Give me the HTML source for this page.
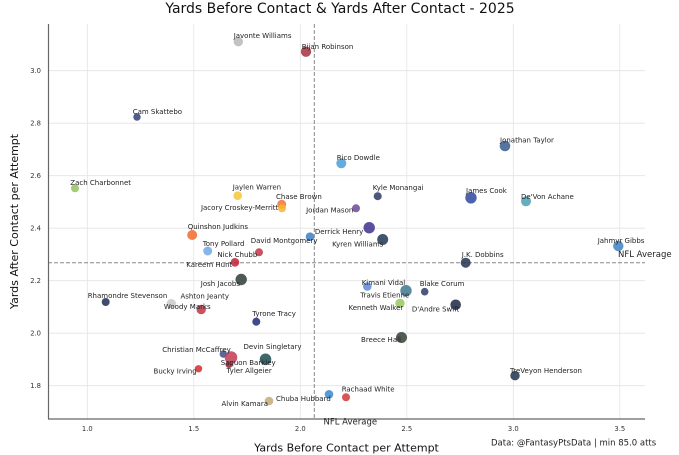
<!DOCTYPE html>
<html><head><meta charset="utf-8"><style>
html,body{margin:0;padding:0;background:#fff;}
svg{display:block;}
text{font-family:"DejaVu Sans","Liberation Sans",sans-serif;}
.a{font-size:7px;fill:#222;}
.t{font-size:6.8px;fill:#333;}
</style></head><body>
<svg width="679" height="455" viewBox="0 0 679 455" xmlns="http://www.w3.org/2000/svg">
<rect width="679" height="455" fill="#fff"/>
<!-- grid -->
<g stroke="#e4e4e4" stroke-width="0.8">
<line x1="87.3" y1="24" x2="87.3" y2="419"/>
<line x1="193.8" y1="24" x2="193.8" y2="419"/>
<line x1="300.3" y1="24" x2="300.3" y2="419"/>
<line x1="406.8" y1="24" x2="406.8" y2="419"/>
<line x1="513.3" y1="24" x2="513.3" y2="419"/>
<line x1="619.8" y1="24" x2="619.8" y2="419"/>
<line x1="48" y1="70.7" x2="645" y2="70.7"/>
<line x1="48" y1="123.2" x2="645" y2="123.2"/>
<line x1="48" y1="175.7" x2="645" y2="175.7"/>
<line x1="48" y1="228.2" x2="645" y2="228.2"/>
<line x1="48" y1="280.7" x2="645" y2="280.7"/>
<line x1="48" y1="333.2" x2="645" y2="333.2"/>
<line x1="48" y1="385.7" x2="645" y2="385.7"/>
</g>
<!-- average lines -->
<g stroke="#888" stroke-width="1" stroke-dasharray="4,2" fill="none">
<line x1="314.3" y1="24" x2="314.3" y2="419"/>
<line x1="48" y1="262.7" x2="645" y2="262.7"/>
</g>
<!-- spines -->
<g stroke="#666" stroke-width="1.2">
<line x1="48.5" y1="24" x2="48.5" y2="419"/>
<line x1="48" y1="419" x2="645" y2="419"/>
</g>
<!-- tick labels -->
<g class="t" text-anchor="middle">
<text x="87.3" y="431">1.0</text>
<text x="193.8" y="431">1.5</text>
<text x="300.3" y="431">2.0</text>
<text x="406.8" y="431">2.5</text>
<text x="513.3" y="431">3.0</text>
<text x="619.8" y="431">3.5</text>
</g>
<g class="t" text-anchor="end">
<text x="41" y="73.2">3.0</text>
<text x="41" y="125.7">2.8</text>
<text x="41" y="178.2">2.6</text>
<text x="41" y="230.7">2.4</text>
<text x="41" y="283.2">2.2</text>
<text x="41" y="335.7">2.0</text>
<text x="41" y="388.2">1.8</text>
</g>
<!-- title & labels -->
<text x="340" y="13" text-anchor="middle" font-size="14" fill="#111">Yards Before Contact &amp; Yards After Contact - 2025</text>
<text x="346.5" y="451.5" text-anchor="middle" font-size="11" fill="#111">Yards Before Contact per Attempt</text>
<text transform="translate(18,221.5) rotate(-90)" text-anchor="middle" font-size="11" fill="#111">Yards After Contact per Attempt</text>
<text x="491" y="445.5" font-size="8.5" fill="#222">Data: @FantasyPtsData | min 85.0 atts</text>
<text x="618" y="257" font-size="8.5" fill="#222">NFL Average</text>
<text x="323.5" y="424.7" font-size="8.5" fill="#222">NFL Average</text>
<!-- points -->
<g fill-opacity="0.85">
<circle cx="238.3" cy="41.7" r="4.7" fill="#b8b8b8"/>
<circle cx="306" cy="51.7" r="5.2" fill="#a8303f"/>
<circle cx="137" cy="117" r="3.7" fill="#2f3f78"/>
<circle cx="75" cy="188.3" r="4" fill="#95c25e"/>
<circle cx="237.7" cy="195.7" r="4.3" fill="#f5c535"/>
<circle cx="281.7" cy="204.3" r="4.5" fill="#ee7535"/>
<circle cx="282" cy="208.3" r="4" fill="#f6b530"/>
<circle cx="341.3" cy="163.3" r="5" fill="#4c9ed8"/>
<circle cx="356" cy="208.3" r="4" fill="#6a4a96"/>
<circle cx="377.7" cy="196.2" r="4" fill="#2c3a64"/>
<circle cx="505" cy="146" r="5.3" fill="#3a5a90"/>
<circle cx="471" cy="197.8" r="5.7" fill="#2f48a0"/>
<circle cx="526" cy="201.3" r="5" fill="#4aa0b2"/>
<circle cx="369.2" cy="227.7" r="5.7" fill="#41308e"/>
<circle cx="382.7" cy="239.5" r="5.5" fill="#223656"/>
<circle cx="310" cy="236.7" r="4.3" fill="#3c7ec2"/>
<circle cx="618.3" cy="246" r="5.2" fill="#3e82c6"/>
<circle cx="465.7" cy="262.7" r="5" fill="#223250"/>
<circle cx="192.2" cy="235" r="5" fill="#f06a2e"/>
<circle cx="207.7" cy="251" r="4.5" fill="#72a8e4"/>
<circle cx="259" cy="252.3" r="4" fill="#c03448"/>
<circle cx="235" cy="262.3" r="4.3" fill="#c02034"/>
<circle cx="241.2" cy="279.5" r="5.7" fill="#2e3e36"/>
<circle cx="105.7" cy="302" r="4" fill="#1e2e50"/>
<circle cx="171.3" cy="303.7" r="4.7" fill="#cacaca"/>
<circle cx="201.2" cy="309.5" r="4.7" fill="#bc3446"/>
<circle cx="256.3" cy="321.7" r="4" fill="#1e2c78"/>
<circle cx="367.3" cy="286.5" r="4.3" fill="#5e88d6"/>
<circle cx="406" cy="290.7" r="5.7" fill="#3e7690"/>
<circle cx="424.7" cy="291.7" r="3.8" fill="#2c3c66"/>
<circle cx="400" cy="303.3" r="4.7" fill="#9ac662"/>
<circle cx="455.7" cy="304.8" r="5.3" fill="#1e2844"/>
<circle cx="401.5" cy="337.5" r="5.5" fill="#323f36"/>
<circle cx="223.3" cy="354" r="3.7" fill="#3c4c88"/>
<circle cx="229" cy="364.5" r="3.5" fill="#981828"/>
<circle cx="231" cy="357.5" r="6.3" fill="#c03a54"/>
<circle cx="265.5" cy="359.3" r="5.8" fill="#1e4e50"/>
<circle cx="198.5" cy="368.8" r="3.7" fill="#d42c2c"/>
<circle cx="515" cy="375.7" r="4.7" fill="#20304e"/>
<circle cx="269" cy="401" r="4.3" fill="#c4a878"/>
<circle cx="329" cy="394.3" r="4.3" fill="#3c88cc"/>
<circle cx="346" cy="397.3" r="4" fill="#d43838"/>
</g>
<!-- annotations -->
<g class="a">
<text x="233.7" y="37.8">Javonte Williams</text>
<text x="301.7" y="48.8">Bijan Robinson</text>
<text x="132.7" y="113.8">Cam Skattebo</text>
<text x="70.3" y="184.8">Zach Charbonnet</text>
<text x="232.7" y="189.5">Jaylen Warren</text>
<text x="276" y="198.8">Chase Brown</text>
<text x="278.3" y="209.8" text-anchor="end">Jacory Croskey-Merritt</text>
<text x="336.7" y="160.2">Rico Dowdle</text>
<text x="353.3" y="212.5" text-anchor="end">Jordan Mason</text>
<text x="372.7" y="190.2">Kyle Monangai</text>
<text x="500" y="142.5">Jonathan Taylor</text>
<text x="466" y="193.2">James Cook</text>
<text x="521" y="199.2">De'Von Achane</text>
<text x="363.3" y="233.8" text-anchor="end">Derrick Henry</text>
<text x="383.3" y="246.3" text-anchor="end">Kyren Williams</text>
<text x="250.7" y="243.2">David Montgomery</text>
<text x="597.7" y="243.2">Jahmyr Gibbs</text>
<text x="461.7" y="256.8">J.K. Dobbins</text>
<text x="187.7" y="229.2">Quinshon Judkins</text>
<text x="202.7" y="245.8">Tony Pollard</text>
<text x="257.3" y="257.2" text-anchor="end">Nick Chubb</text>
<text x="232.3" y="266.8" text-anchor="end">Kareem Hunt</text>
<text x="240" y="285.8" text-anchor="end">Josh Jacobs</text>
<text x="87.7" y="298.2">Rhamondre Stevenson</text>
<text x="180.5" y="298.5">Ashton Jeanty</text>
<text x="210.7" y="308.8" text-anchor="end">Woody Marks</text>
<text x="252.2" y="315.8">Tyrone Tracy</text>
<text x="361.7" y="285.2">Kimani Vidal</text>
<text x="409.3" y="297.5" text-anchor="end">Travis Etienne</text>
<text x="419.7" y="285.8">Blake Corum</text>
<text x="403.3" y="309.8" text-anchor="end">Kenneth Walker</text>
<text x="459.3" y="311.5" text-anchor="end">D'Andre Swift</text>
<text x="401" y="341.8" text-anchor="end">Breece Hall</text>
<text x="162.3" y="352.2">Christian McCaffrey</text>
<text x="243.5" y="348.8">Devin Singletary</text>
<text x="220.7" y="365">Saquon Barkley</text>
<text x="226.5" y="372.8">Tyler Allgeier</text>
<text x="196.7" y="373.5" text-anchor="end">Bucky Irving</text>
<text x="510" y="372.8">TreVeyon Henderson</text>
<text x="268" y="405.8" text-anchor="end">Alvin Kamara</text>
<text x="276" y="401.2">Chuba Hubbard</text>
<text x="341.7" y="391.5">Rachaad White</text>
</g>
</svg>
</body></html>
